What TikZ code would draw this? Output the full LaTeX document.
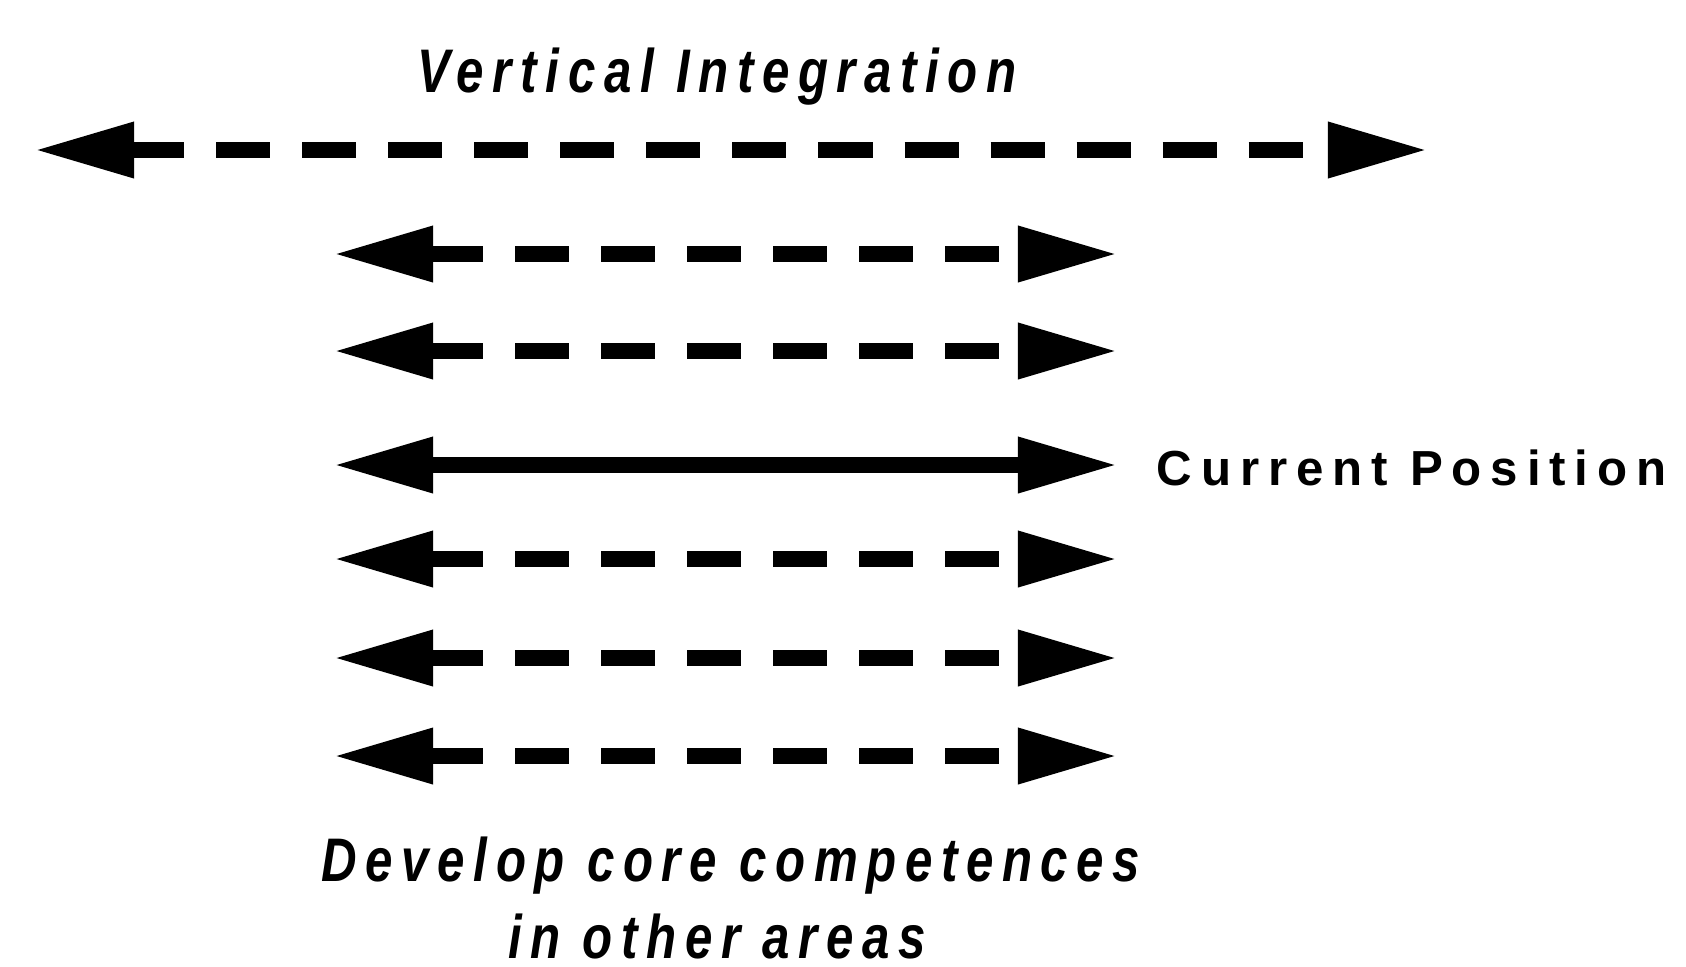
\documentclass[tikz,border=0pt]{standalone}
\usepackage{fontspec}
\setmainfont{Liberation Sans}
\usetikzlibrary{arrows.meta}
\newfontfamily\capfont[FakeStretch=0.8,LetterSpace=14]{Liberation Sans}
\newfontfamily\posfont[LetterSpace=18]{Liberation Sans}
\tikzset{
  twohead/.style={line width=0.16cm, {Triangle[length=1cm,width=0.52cm]}-{Triangle[length=1cm,width=0.52cm]}},
  dashrow/.style={twohead, dash pattern=on 0.54cm off 0.32cm},
  caption/.style={font=\capfont\bfseries\itshape\fontsize{17.5}{20}\selectfont, inner sep=0pt}
}
\begin{document}
\begin{tikzpicture}[x=0.01cm,y=-0.01cm]
\useasboundingbox (0,0) rectangle (1686,966);
% Vertical Integration
\node[caption] (vert) at (717,77) {Vertical Integration};
\coordinate (vl) at (34,150);
\coordinate (vr) at (1428,150);
\draw[dashrow] (vl) -- (vr);

% rows of options
\coordinate (al) at (333,254); \coordinate (ar) at (1118,254);
\coordinate (bl) at (333,351); \coordinate (br) at (1118,351);
\coordinate (dl) at (333,559); \coordinate (dr) at (1118,559);
\coordinate (el) at (333,658); \coordinate (er) at (1118,658);
\coordinate (fl) at (333,756); \coordinate (fr) at (1118,756);
\foreach \r in {a,b,d,e,f}
  \draw[dashrow] (\r l) -- (\r r);

% Current Position
\coordinate (cl) at (333,465); \coordinate (cr) at (1118,465);
\draw[twohead] (cl) -- (cr);
\node[font=\posfont\bfseries\fontsize{14}{17}\selectfont, anchor=west, inner sep=0pt] (cur) at (1156,468) {Current Position};

% Develop core competences
\node[caption] (dev) at (731,866) {Develop core competences};
\node[caption] (oth) at (717,936) {in other areas};
\end{tikzpicture}
\end{document}
